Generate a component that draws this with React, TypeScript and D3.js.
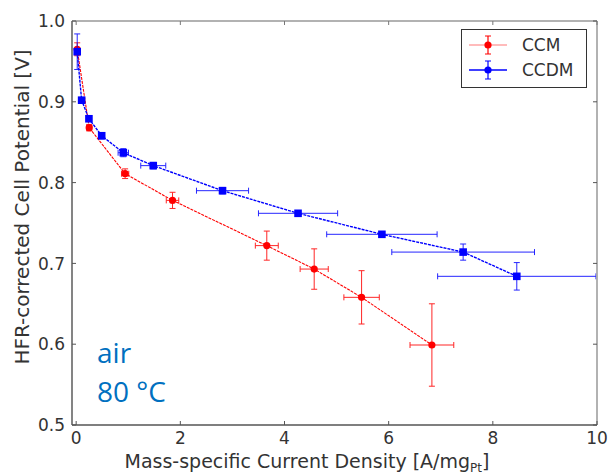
import React from "react";
import * as d3 from "d3";

const ccmX = [0.02, 0.25, 0.94, 1.85, 3.66, 4.57, 5.48, 6.83];
const ccmV = [0.965, 0.868, 0.811, 0.778, 0.722, 0.693, 0.658, 0.599];
const ccmXErr = [0.02, 0.05, 0.07, 0.12, 0.22, 0.27, 0.34, 0.42];
const ccmVErr = [0.008, 0.004, 0.006, 0.01, 0.018, 0.025, 0.033, 0.051];

const ccdmX = [0.02, 0.105, 0.245, 0.49, 0.905, 1.48, 2.81, 4.26, 5.87, 7.43, 8.46];
const ccdmV = [0.962, 0.902, 0.879, 0.858, 0.837, 0.821, 0.79, 0.762, 0.736, 0.714, 0.684];
const ccdmXErr = [0.01, 0.02, 0.03, 0.05, 0.1, 0.24, 0.5, 0.76, 1.06, 1.37, 1.52];
const ccdmVErr = [0.022, 0.003, 0.003, 0.004, 0.005, 0.004, 0.004, 0.003, 0.003, 0.01, 0.017];

const xTicks = [0, 2, 4, 6, 8, 10];
const yTicks = [0.5, 0.6, 0.7, 0.8, 0.9, 1.0];
const seriesNames = ["CCM", "CCDM"];

const W = 613, H = 476;
const L = 72, R = 597, T = 21, B = 425;
const FONT = "'DejaVu Sans', sans-serif";

export default function App() {
  const x = d3.scaleLinear().domain([-0.08, 10]).range([L, R]);
  const y = d3.scaleLinear().domain([0.5, 1.0]).range([B, T]);
  const line = d3.line<[number, number]>().x(d => x(d[0])).y(d => y(d[1]));

  const series = [
    { name: seriesNames[0], xs: ccmX, vs: ccmV, xe: ccmXErr, ve: ccmVErr, color: "#ff0000", marker: "circle", lw: 1.1 },
    { name: seriesNames[1], xs: ccdmX, vs: ccdmV, xe: ccdmXErr, ve: ccdmVErr, color: "#0000ff", marker: "square", lw: 1.4 },
  ];
  const cap = 3;

  return (
    <svg width={W} height={H} style={{ position: "absolute", left: 0, top: 0, background: "#fff" }} fontFamily={FONT}>
      <rect x={0} y={0} width={W} height={H} fill="#fff" />
      {/* series */}
      {series.map(s => {
        const pts = s.xs.map((v, i) => [v, s.vs[i]] as [number, number]);
        return (
          <g key={s.name}>
            <path d={line(pts) || ""} fill="none" stroke={s.color} strokeWidth={s.lw} strokeDasharray="3 1" />
            {pts.map((p, i) => {
              const cx = x(p[0]), cy = y(p[1]);
              const x0 = x(p[0] - s.xe[i]), x1 = x(p[0] + s.xe[i]);
              const y0 = y(p[1] - s.ve[i]), y1 = y(p[1] + s.ve[i]);
              return (
                <g key={i} stroke={s.color} strokeWidth={1} opacity={0.85}>
                  <line x1={x0} x2={x1} y1={cy} y2={cy} />
                  <line x1={x0} x2={x0} y1={cy - cap} y2={cy + cap} />
                  <line x1={x1} x2={x1} y1={cy - cap} y2={cy + cap} />
                  <line x1={cx} x2={cx} y1={y0} y2={y1} />
                  <line x1={cx - cap} x2={cx + cap} y1={y0} y2={y0} />
                  <line x1={cx - cap} x2={cx + cap} y1={y1} y2={y1} />
                </g>
              );
            })}
            {pts.map((p, i) =>
              s.marker === "circle" ? (
                <circle key={"m" + i} cx={x(p[0])} cy={y(p[1])} r={3.6} fill={s.color} />
              ) : (
                <rect key={"m" + i} x={x(p[0]) - 3.8} y={y(p[1]) - 3.8} width={7.6} height={7.6} fill={s.color} />
              )
            )}
          </g>
        );
      })}
      {/* spines */}
      <line x1={L} x2={R} y1={T} y2={T} stroke="#999" strokeWidth={1.5} />
      <line x1={R} x2={R} y1={T} y2={B} stroke="#aaa" strokeWidth={1.8} />
      <line x1={L} x2={L} y1={T} y2={B} stroke="#777" strokeWidth={1.8} />
      <line x1={L} x2={R} y1={B} y2={B} stroke="#555" strokeWidth={1.6} />
      {/* ticks */}
      {xTicks.map(t => (
        <g key={"xt" + t}>
          <line x1={x(t)} x2={x(t)} y1={B} y2={B - 4} stroke="#555" />
          <line x1={x(t)} x2={x(t)} y1={T} y2={T + 4} stroke="#777" />
          <text x={x(t)} y={444} textAnchor="middle" fontSize={17} fill="#333">{d3.format("d")(t)}</text>
        </g>
      ))}
      {yTicks.map(t => (
        <g key={"yt" + t}>
          <line x1={L} x2={L + 4} y1={y(t)} y2={y(t)} stroke="#555" />
          <line x1={R} x2={R - 4} y1={y(t)} y2={y(t)} stroke="#555" />
          <text x={65} y={y(t)} dy="0.36em" textAnchor="end" fontSize={17} fill="#333">{d3.format(".1f")(t)}</text>
        </g>
      ))}
      {/* axis labels */}
      <text x={307} y={468} textAnchor="middle" fontSize={19} fill="#333">
        Mass-specific Current Density [A/mg<tspan fontSize={12} dy={4}>Pt</tspan><tspan dy={-4}>]</tspan>
      </text>
      <text transform={`translate(29,207) rotate(-90)`} textAnchor="middle" fontSize={20} fill="#333">
        HFR-corrected Cell Potential [V]
      </text>
      {/* annotation */}
      <text x={97} y={363} fontSize={28} fill="#0070C0" fontFamily="'Open Sans', sans-serif">air</text>
      <text x={97} y={402} fontSize={28} fill="#0070C0" fontFamily="'Open Sans', sans-serif">80 °C</text>
      {/* legend */}
      <rect x={461.5} y={29.5} width={125} height={58} fill="#fff" stroke="#333" strokeWidth={1} />
      {series.map((s, i) => {
        const ly = 45 + i * 25;
        return (
          <g key={"lg" + s.name}>
            <line x1={469} x2={507} y1={ly} y2={ly} stroke={s.color} strokeWidth={1.4} opacity={i === 0 ? 0.35 : 1} />
            <line x1={488} x2={488} y1={ly - 9} y2={ly + 9} stroke={s.color} strokeWidth={1.2} />
            <line x1={485} x2={491} y1={ly - 9} y2={ly - 9} stroke={s.color} strokeWidth={1} />
            <line x1={485} x2={491} y1={ly + 9} y2={ly + 9} stroke={s.color} strokeWidth={1} />
            <circle cx={488} cy={ly} r={3.6} fill={s.color} />
            <text x={522} y={ly} dy="0.36em" fontSize={17} fill="#333">{s.name}</text>
          </g>
        );
      })}
    </svg>
  );
}
